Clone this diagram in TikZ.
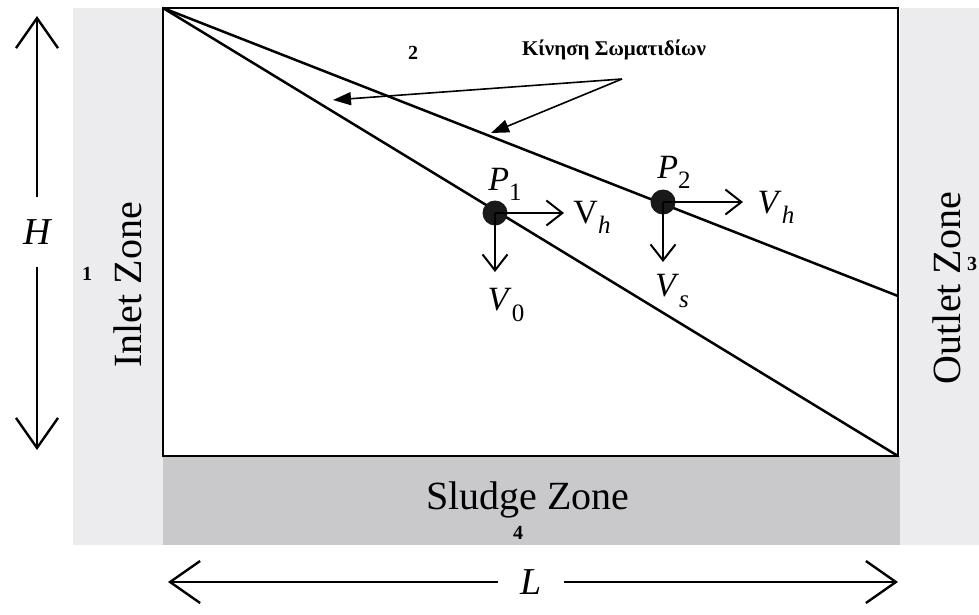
\documentclass[tikz,border=0pt]{standalone}
\usepackage{fontspec}
\setmainfont{Liberation Serif}
\usetikzlibrary{arrows.meta}
\newcommand\vlab[2]{#1\raisebox{-0.3em}{\fontsize{25}{25}\selectfont #2}}
\definecolor{bandgray}{HTML}{ECECEE}
\definecolor{sludgegray}{HTML}{C9C9CB}
\begin{document}
\begin{tikzpicture}[x=1pt,y=-1pt,
  zonetext/.style={font=\fontsize{40}{40}\selectfont, inner sep=0pt},
  num/.style={font=\bfseries\fontsize{20}{20}\selectfont, inner sep=0pt},
  dimarrow/.style={line width=2.4pt, -{Straight Barb[length=30pt,width=42pt,line width=2.4pt]}},
  velarrow/.style={line width=2pt, -{Straight Barb[length=16pt,width=25pt,line width=2pt]}},
  annarrow/.style={line width=1.6pt, -{Triangle[length=18pt,width=13pt]}},
  tankline/.style={line width=2.5pt},
  velfont/.style={font=\fontsize{34}{34}\selectfont, inner sep=0pt},
  dot/.style={circle, fill=black!90, minimum size=25pt, inner sep=0pt}
]
\useasboundingbox (0,0) rectangle (979,614);
% zones
\fill[bandgray] (73,8) rectangle (163,545);
\fill[bandgray] (900,8) rectangle (979,545);
\fill[sludgegray] (163,456) rectangle (900,545);
\draw[line width=2pt, fill=white] (163,8) rectangle (898,456);
% corners
\coordinate (tl) at (163,8);
\coordinate (br) at (898,456);
\coordinate (re) at (898,296);
\draw[tankline] (tl) -- (br);
\draw[tankline] (tl) -- (re);
% zone labels
\node[zonetext, rotate=90] (inlet) at (128,285) {Inlet Zone};
\node[zonetext, rotate=90] (outlet) at (947,288) {Outlet Zone};
\node[zonetext] (sludge) at (528,500) {Sludge Zone};
\node[num] (n1) at (87,274) {1};
\node[num] (n2) at (413,53) {2};
\node[num] (n3) at (972,264) {3};
\node[num] (n4) at (518,533) {4};
% annotation
\node[font=\bfseries\fontsize{21}{21}\selectfont, inner sep=0pt] (kin) at (614,50) {Κίνηση Σωματιδίων};
\coordinate (ap) at (622,79);
\coordinate (a1) at (333,100);
\coordinate (a2) at (491,133);
\draw[annarrow] (ap) -- (a1);
\draw[annarrow] (ap) -- (a2);
% particles
\node[dot] (P1) at (495,213) {};
\node[dot] (P2) at (663,202) {};
\coordinate (p1r) at (564,213);
\coordinate (p1d) at (495,272);
\coordinate (p2r) at (743,202);
\coordinate (p2d) at (663,262);
\draw[velarrow] (P1.center) -- (p1r);
\draw[velarrow] (P1.center) -- (p1d);
\draw[velarrow] (P2.center) -- (p2r);
\draw[velarrow] (P2.center) -- (p2d);
\node[velfont] (lp1) at (505,184) {\vlab{\textit{P}}{1}};
\node[velfont] (lp2) at (674,172) {\vlab{\textit{P}}{2}};
\node[velfont] (lvh1) at (592,217) {\vlab{V}{\textit{h}}};
\node[velfont] (lv0) at (506,305) {\vlab{\textit{V}}{0}};
\node[velfont] (lvh2) at (776,207) {\vlab{\textit{V}}{\textit{h}}};
\node[velfont] (lvs) at (672,291) {\vlab{\textit{V}}{\textit{s}}};
% dimensions
\node[font=\itshape\fontsize{38}{38}\selectfont, minimum height=70pt, inner sep=0pt] (H) at (37,232) {H};
\coordinate (Htop) at (37,16);
\coordinate (Hbot) at (37,450);
\draw[dimarrow] (H.north) -- (Htop);
\draw[dimarrow] (H.south) -- (Hbot);
\node[font=\itshape\fontsize{38}{38}\selectfont, minimum width=66pt, inner sep=0pt] (L) at (531,582) {L};
\coordinate (Lleft) at (168,582);
\coordinate (Lright) at (898,582);
\draw[dimarrow] (L.west) -- (Lleft);
\draw[dimarrow] (L.east) -- (Lright);
\end{tikzpicture}
\end{document}
